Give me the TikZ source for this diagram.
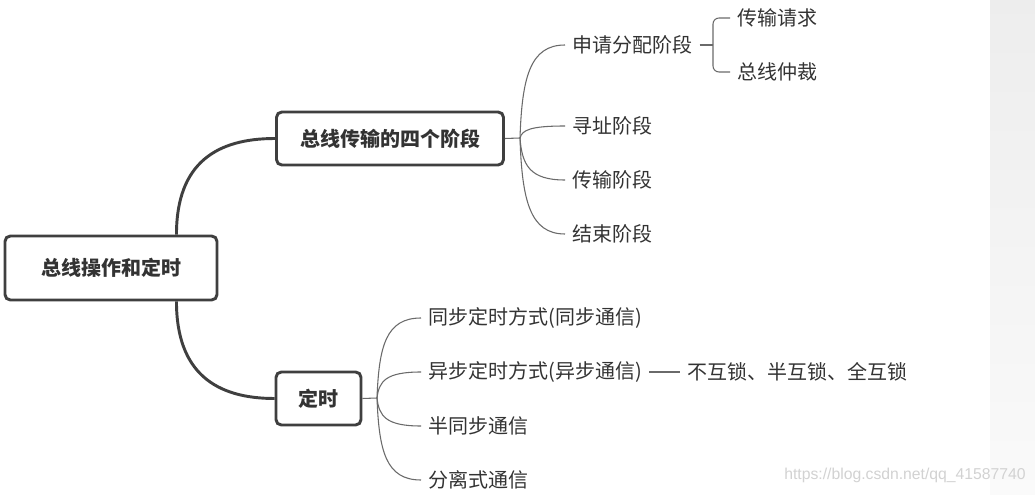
\documentclass[tikz,border=0pt]{standalone}
\usepackage{fontspec}
\setmainfont{Noto Sans CJK SC}
\newfontfamily\wmfont{Liberation Sans}
\usetikzlibrary{calc}
\definecolor{boxline}{HTML}{3F3F3F}
\definecolor{txt}{HTML}{333333}
\definecolor{thin}{HTML}{6A6A6A}
\definecolor{wm}{HTML}{D2D2D2}
\tikzset{
  topic/.style={draw=boxline, line width=2.2pt, rounded corners=4pt, fill=white,
    font=\fontsize{15pt}{18pt}\selectfont\bfseries, text=txt, inner sep=0pt},
  leaf/.style={anchor=west, inner xsep=5.25pt, inner ysep=0pt,
    font=\fontsize{15pt}{18pt}\selectfont, text=txt},
  thickline/.style={draw=boxline, line width=2.2pt},
  thinline/.style={draw=thin, line width=0.8pt},
}
\begin{document}
\begin{tikzpicture}[x=0.75pt,y=-0.75pt]
\useasboundingbox (0,0) rectangle (1035,495);
\fill[white] (0,0) rectangle (1035,495);
\shade[top color=black!7, bottom color=black!2] (990,0) rectangle (1035,495);

% main topics
\node[topic, minimum width=159pt, minimum height=48pt] (root) at (111,268) {总线操作和定时};
\node[topic, minimum width=170.25pt, minimum height=39.75pt] (b2) at (390,138.5) {总线传输的四个阶段};
\node[topic, minimum width=63.75pt, minimum height=39.75pt] (b3) at (318.5,398.5) {定时};

% root connectors
\coordinate (rt) at ($(root.north east)+(-42,0)$);
\coordinate (rb) at ($(root.south east)+(-42,0)$);
\draw[thickline] (rt) .. controls +(0,-72) and +(-58,0) .. (b2.west);
\draw[thickline] (rb) .. controls +(0,72) and +(-58,0) .. (b3.west);

% children of b2
\node[leaf] (c1) at (565,45) {申请分配阶段};
\node[leaf] (c2) at (565,126) {寻址阶段};
\node[leaf] (c3) at (565,180) {传输阶段};
\node[leaf] (c4) at (565,234) {结束阶段};
\coordinate (j2) at (520,138);
\draw[thinline] (b2.east) -- (j2);
\foreach \c in {c1,c2,c3,c4}
  \draw[thinline] (j2) .. controls ($(j2)!0.65!(j2|-\c.west)+(2,0)$) and ($(\c.west)+(-35,0)$) .. (\c.west);

% children of c1
\coordinate (j3) at (713,45);
\node[leaf] (s1) at (730,18) {传输请求};
\node[leaf] (s2) at (730,72) {总线仲裁};
\draw[thinline] (c1.east) -- (j3);
\draw[thinline, rounded corners=4.5pt] (j3) |- (s1.west);
\draw[thinline, rounded corners=4.5pt] (j3) |- (s2.west);

% children of b3
\node[leaf] (d1) at (421,318) {同步定时方式(同步通信)};
\node[leaf] (d2) at (421,372) {异步定时方式(异步通信)};
\node[leaf] (d3) at (421,426) {半同步通信};
\node[leaf] (d4) at (421,480) {分离式通信};
\coordinate (j4) at (377,398);
\draw[thinline] (b3.east) -- (j4);
\foreach \c in {d1,d2,d3,d4}
  \draw[thinline] (j4) .. controls ($(j4)!0.65!(j4|-\c.west)+(2,0)$) and ($(\c.west)+(-35,0)$) .. (\c.west);

\node[leaf] (e1) at ($(d2.east)+(31,0)$) {不互锁、半互锁、全互锁};
\draw[thinline] (d2.east) -- (e1.west);

% watermark
\node[anchor=east, inner sep=0pt, text=wm, font=\wmfont\fontsize{11.8pt}{13pt}\selectfont] (wmk) at (1026,475) {https://blog.csdn.net/qq\_41587740};
\end{tikzpicture}
\end{document}
